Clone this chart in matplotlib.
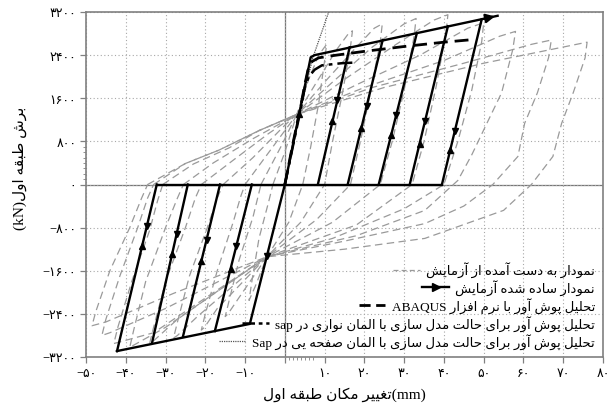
import numpy as np
import matplotlib
matplotlib.use("Agg")
import matplotlib.pyplot as plt
from matplotlib.lines import Line2D

# ---- data ----
x_ticks = [-50, -40, -30, -20, -10, 0, 10, 20, 30, 40, 50, 60, 70, 80]
y_ticks = [-3200, -2400, -1600, -800, 0, 800, 1600, 2400, 3200]

# experiment hysteresis loops (gray dashed)
test_loops_x = [
    [-3, 0, 3, 6, 8.5, 10.5, 10, 8.5, 6.5, 4.5, 1, -4.5, -7.5, -9, -8.3, -6.5, -4, -3],
    [-6, -1, 3, 8, 13, 16, 17, 16.5, 14.5, 12, 10, 4, -4.5, -12, -14.3, -15, -14, -11.5, -8, -6],
    [-10, -4, 3, 10, 18, 22.5, 24.5, 24, 21.5, 19, 16.5, 8, -4.5, -17, -20.2, -21, -20, -17, -13, -11, -10],
    [-15.5, -8, 0, 3, 12, 22, 30, 33, 32.5, 30, 27, 24, 12, -4.5, -22, -27, -28, -27, -24, -19.5, -17, -15.5],
    [-21, -13, -4, 3, 15, 28, 37.5, 41, 40.5, 38, 35, 32, 18, -4.5, -27, -33, -34, -33, -30, -25, -22.5, -21],
    [-25.5, -18, -8, 3, 18, 34, 46, 50, 49.5, 47, 43.5, 40, 30, 12, -4.5, -30, -38, -39, -38, -35, -30, -27, -25.5],
    [-30.7, -23, -14, -6.5, 3, 20, 40, 54, 58, 57.3, 54.5, 50.8, 47, 43.5, 35.2, 18, -4.5, -33, -42, -43, -42, -38.5, -34, -32, -30.7],
    [-33, -25, -16.5, -6.5, 3, 22, 45, 62, 67, 66.3, 63.5, 60.3, 58.6, 52.3, 45, 35.2, 15, -4.5, -30, -44, -46, -45, -41.5, -37, -34.5, -33],
    [-34.5, -25, -16.5, -6.5, 3, 25, 50, 70, 76, 75.5, 72.5, 69.6, 67.4, 62, 55, 35.2, 15, -4.5, -28, -45, -48.5, -47.5, -44, -39, -36, -34.5],
]
test_loops_y = [
    [0, 600, 1300, 1950, 2400, 2600, 2300, 1500, 700, 0, -700, -1340, -1900, -2150, -1800, -1000, -300, 0],
    [0, 700, 1300, 1900, 2500, 2800, 2850, 2550, 1700, 800, 0, -700, -1340, -2150, -2400, -2450, -2150, -1400, -600, 0],
    [0, 600, 1300, 1900, 2550, 2900, 2980, 2650, 1700, 800, 0, -650, -1340, -2300, -2650, -2700, -2400, -1600, -700, -200, 0],
    [0, 500, 1100, 1300, 1900, 2550, 2980, 3080, 2750, 1750, 800, 0, -700, -1340, -2450, -2800, -2850, -2550, -1700, -800, -250, 0],
    [0, 450, 950, 1300, 1950, 2600, 3050, 3150, 2800, 1800, 800, 0, -750, -1340, -2500, -2900, -2950, -2650, -1800, -800, -250, 0],
    [0, 400, 850, 1300, 1850, 2400, 2900, 3000, 2650, 1750, 800, 0, -450, -1000, -1340, -2650, -2980, -3020, -2700, -1800, -800, -250, 0],
    [0, 380, 680, 1000, 1300, 1800, 2300, 2750, 2840, 2500, 1700, 1135, 550, 75, -480, -950, -1340, -2750, -2930, -2950, -2650, -1800, -850, -300, 0],
    [0, 390, 640, 1000, 1300, 1800, 2250, 2600, 2680, 2350, 1700, 1135, 520, 0, -400, -725, -1050, -1340, -2300, -2750, -2800, -2500, -1700, -800, -250, 0],
    [0, 390, 640, 1000, 1300, 1800, 2250, 2550, 2640, 2350, 1700, 1135, 520, 0, -480, -1000, -1200, -1340, -2020, -2550, -2620, -2350, -1600, -800, -250, 0],
]

# simplified test curve (black with arrows)
pos_env_x = [0, 6.5, 7.5, 53.5]
pos_env_y = [0, 2360, 2400, 3130]
neg_env_x = [0, -8.8, -42.2]
neg_env_y = [0, -2586, -3090]
base_x = [-32.2, 39.5]
pos_base_x = [8.3, 15.8, 23.6, 31.4, 39.5]
pos_peak_x = [16.3, 24.6, 33.2, 41.0, 49.5]
pos_peak_y = [2545, 2680, 2810, 2935, 3065]
pos_down_y = [1560, 1450, 1290, 1170, 1000]
pos_up_y = [1170, 1040, 910, 760, 640]
neg_base_x = [-32.2, -24.4, -16.3, -8.3]
neg_peak_x = [-42.2, -33.4, -25.6, -17.6]
neg_peak_y = [-3090, -2940, -2815, -2720]
neg_down_y = [-763, -911, -1023, -1135]
neg_up_y = [-1135, -1284, -1414, -1563]
elastic_up_y = 1300
elastic_down_y = -1320

# pushover analyses
abaqus_x = [0, 2, 4, 5, 5.8, 6.8, 8.5, 12, 20, 30, 40, 47.5]
abaqus_y = [0, 750, 1450, 1850, 2120, 2280, 2350, 2390, 2470, 2560, 2640, 2690]
strip_x = [0, 2, 4, 5, 6, 7.5, 9.3, 14.3, 17]
strip_y = [0, 700, 1400, 1800, 2000, 2130, 2210, 2250, 2260]
plate_x = [0, 3.5, 7, 11.5]
plate_y = [0, 1250, 2345, 3300]

# ---- Persian text shaping (isolated, final, initial, medial) ----
FORMS = {
    'ا': (0xFE8D, 0xFE8E, None, None), 'آ': (0xFE81, 0xFE82, None, None),
    'ب': (0xFE8F, 0xFE90, 0xFE91, 0xFE92), 'پ': (0xFB56, 0xFB57, 0xFB58, 0xFB59),
    'ت': (0xFE95, 0xFE96, 0xFE97, 0xFE98), 'ح': (0xFEA1, 0xFEA2, 0xFEA3, 0xFEA4),
    'د': (0xFEA9, 0xFEAA, None, None), 'ر': (0xFEAD, 0xFEAE, None, None),
    'ز': (0xFEAF, 0xFEB0, None, None), 'س': (0xFEB1, 0xFEB2, 0xFEB3, 0xFEB4),
    'ش': (0xFEB5, 0xFEB6, 0xFEB7, 0xFEB8), 'ص': (0xFEB9, 0xFEBA, 0xFEBB, 0xFEBC),
    'ط': (0xFEC1, 0xFEC2, 0xFEC3, 0xFEC4), 'غ': (0xFECD, 0xFECE, 0xFECF, 0xFED0),
    'ف': (0xFED1, 0xFED2, 0xFED3, 0xFED4), 'ق': (0xFED5, 0xFED6, 0xFED7, 0xFED8),
    'ک': (0xFB8E, 0xFB8F, 0xFB90, 0xFB91), 'ل': (0xFEDD, 0xFEDE, 0xFEDF, 0xFEE0),
    'م': (0xFEE1, 0xFEE2, 0xFEE3, 0xFEE4), 'ن': (0xFEE5, 0xFEE6, 0xFEE7, 0xFEE8),
    'ه': (0xFEE9, 0xFEEA, 0xFEEB, 0xFEEC), 'و': (0xFEED, 0xFEEE, None, None),
    'ی': (0xFBFC, 0xFBFD, 0xFBFE, 0xFBFF),
}


def fa(text):
    out = []
    n = len(text)
    for i, ch in enumerate(text):
        if ch not in FORMS:
            out.append(ch)
            continue
        iso, fin, ini, med = FORMS[ch]
        prev = text[i - 1] if i > 0 else ''
        nxt = text[i + 1] if i < n - 1 else ''
        join_prev = prev in FORMS and FORMS[prev][2] is not None
        join_next = ini is not None and nxt in FORMS
        if join_prev and join_next:
            code = med
        elif join_prev:
            code = fin
        elif join_next:
            code = ini
        else:
            code = iso
        out.append(chr(code))
    return ''.join(reversed(out))


def fa_num(v):
    s = str(abs(v)).translate(str.maketrans('0123456789', '۰۱۲۳۴۵۶۷۸۹'))
    return ('\u2212' + s) if v < 0 else s


FAM = ['Liberation Serif', 'DejaVu Sans']
plt.rcParams['font.family'] = FAM

fig = plt.figure(figsize=(6.16, 4.14), dpi=100)
ax = fig.add_axes([86 / 616, 1 - 358 / 414, 517 / 616, 345 / 414])
ax.set_xlim(-50, 80)
ax.set_ylim(-3200, 3200)

ax.grid(True, ls=(0, (1, 2.2)), color='#a8a8a8', lw=0.8)
ax.axhline(0, color='#777777', lw=0.9, zorder=1)
ax.axvline(0, color='#777777', lw=0.9, zorder=1)

# experiment
for lx, ly in zip(test_loops_x, test_loops_y):
    ax.plot(lx, ly, color='#9a9a9a', lw=0.9, dashes=(6, 3.5), zorder=2)

# pushover curves
ax.plot(plate_x, plate_y, color='#555555', lw=0.9, ls=(0, (1, 0.8)), zorder=3)
ax.plot(strip_x, strip_y, color='k', lw=1.8, dashes=(6, 2, 1.5, 2), zorder=4)
ax.plot(abaqus_x, abaqus_y, color='k', lw=2.0, dashes=(5, 2.5), zorder=4)

# simplified test curve
kw = dict(color='k', lw=1.7, zorder=5)
ax.plot(pos_env_x, pos_env_y, **kw)
ax.plot(neg_env_x, neg_env_y, **kw)
ax.plot(base_x, [0, 0], **kw)
ax.annotate('', xy=(pos_env_x[-1], pos_env_y[-1]),
            xytext=(pos_env_x[-1] - 4, pos_env_y[-1] - 4 * (pos_env_y[-1] - pos_env_y[-2]) / (pos_env_x[-1] - pos_env_x[-2])),
            arrowprops=dict(arrowstyle='-|>', color='k', lw=1.7, mutation_scale=13), zorder=6)
mk = dict(color='k', ms=5, ls='none', zorder=6)
for xb, xp, yp, yd, yu in zip(pos_base_x, pos_peak_x, pos_peak_y, pos_down_y, pos_up_y):
    ax.plot([xb, xp], [0, yp], **kw)
    ax.plot(np.interp(yd, [0, yp], [xb, xp]), yd, marker='v', **mk)
    ax.plot(np.interp(yu, [0, yp], [xb, xp]), yu, marker='^', **mk)
for xb, xp, yp, yd, yu in zip(neg_base_x, neg_peak_x, neg_peak_y, neg_down_y, neg_up_y):
    ax.plot([xb, xp], [0, yp], **kw)
    ax.plot(np.interp(-yd, [0, -yp], [xb, xp]), yd, marker='v', **mk)
    ax.plot(np.interp(-yu, [0, -yp], [xb, xp]), yu, marker='^', **mk)
ax.plot(np.interp(elastic_up_y, pos_env_y[:2], pos_env_x[:2]), elastic_up_y, marker='^', **mk)
ax.plot(np.interp(-elastic_down_y, [0, -neg_env_y[1]], neg_env_x[:2]), elastic_down_y, marker='v', **mk)

# axes styling
for s in ax.spines.values():
    s.set_color('#808080')
    s.set_linewidth(1.2)
ax.set_xticks(x_ticks)
ax.set_xticklabels(['' if v == 0 else fa_num(v) for v in x_ticks])
ax.set_yticks(y_ticks)
ax.set_yticklabels([fa_num(v) for v in y_ticks])
ax.set_xticks(range(1, 8), minor=True)
ax.set_yticks(range(100, 800, 100), minor=True)
ax.tick_params(which='major', length=4, width=0.9, color='#808080', labelsize=9, pad=3)
ax.tick_params(which='minor', length=2.5, width=0.6, color='#808080')
ax.grid(False, which='minor')

ax.set_xlabel(fa('تغییر مکان طبقه اول') + '(mm)', fontsize=11)
ax.xaxis.set_label_coords(0.5, -0.085)
ax.set_ylabel('(kN)' + fa('برش طبقه اول'), fontsize=11)
ax.yaxis.set_label_coords(-0.115, 0.55)

handles = [
    Line2D([], [], color='#9a9a9a', lw=0.9, dashes=(4, 2.5)),
    Line2D([], [], color='k', lw=1.7, marker='>', ms=6),
    Line2D([], [], color='k', lw=2.0, dashes=(4, 2)),
    Line2D([], [], color='k', lw=1.8, dashes=(5, 1.5, 1.5, 1.5)),
    Line2D([], [], color='#555555', lw=0.9, ls=(0, (1, 0.8))),
]
labels = [
    fa('نمودار به دست آمده از آزمایش'),
    fa('نمودار ساده شده آزمایش'),
    'ABAQUS ' + fa('تحلیل پوش آور با نرم افزار'),
    'sap ' + fa('تحلیل پوش آور برای حالت مدل سازی با المان نواری در'),
    'Sap ' + fa('تحلیل پوش آور برای حالت مدل سازی با المان صفحه یی در'),
]
leg = ax.legend(handles, labels, loc='lower right', frameon=False, fontsize=9.5,
                handlelength=2.0, handletextpad=0.5, labelspacing=0.15,
                borderaxespad=0.2)
for col in leg._legend_handle_box.get_children():
    col.align = 'right'

fig.savefig('out.png', dpi=100)
